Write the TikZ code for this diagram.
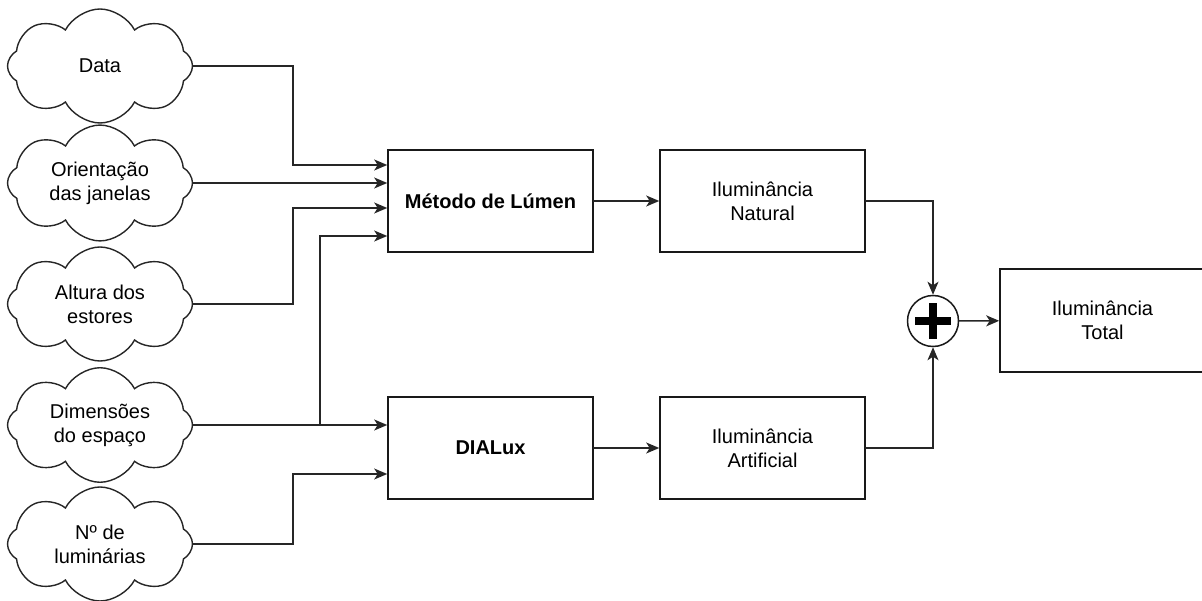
\documentclass[tikz,border=0pt]{standalone}
\usepackage{fontspec}
\setmainfont{Liberation Sans}
\usetikzlibrary{shapes.symbols,arrows.meta}
\begin{document}
\begin{tikzpicture}[x=1pt,y=-1pt,line cap=round,font=\fontsize{20}{24}\selectfont]
        % Styles
        \tikzstyle{nuvem}=[cloud,draw=black!85,cloud puffs=8,cloud puff arc=125,aspect=1.6,inner sep=0pt,minimum width=185pt,minimum height=114pt,align=center,line width=1.4pt]
        \tikzstyle{bloco}=[draw=black!90,line width=1.6pt,minimum width=205pt,minimum height=102pt,align=center]
        \tikzstyle{seta}=[-{Stealth[length=13pt,width=11pt,inset=3.5pt]},line width=1.5pt,black!85]
        \useasboundingbox (0,0) rectangle (1202,601);
        %entradas
        \foreach \nome/\y/\texto in {data/66/Data,orient/183/Orientação\\das janelas,altura/304/Altura dos\\estores,dimens/425/Dimensões\\do espaço,lumin/544/Nº de\\luminárias}
            \node[nuvem] (\nome) at (100,\y) {\texto};
        %blocos
        \node[bloco,font=\fontsize{20}{24}\selectfont\bfseries] (metodo) at (490.5,201) {Método de Lúmen};
        \node[bloco,font=\fontsize{20}{24}\selectfont\bfseries] (dialux) at (490.5,448) {DIALux};
        \node[bloco] (natural) at (762.5,201) {Iluminância\\Natural};
        \node[bloco] (artif) at (762.5,448) {Iluminância\\Artificial};
        \node[circle,draw=black!90,line width=1.5pt,minimum size=51pt,inner sep=0pt] (soma) at (933,321) {};
        \draw[line width=8.5pt,line cap=butt] ([xshift=-18pt]soma.center) -- ([xshift=18pt]soma.center);
        \draw[line width=8.5pt,line cap=butt] ([yshift=-18pt]soma.center) -- ([yshift=18pt]soma.center);
        \node[bloco,minimum height=103pt] (total) at (1102.5,320.5) {Iluminância\\Total};
        %ligacoes
        \draw[seta] (data.east) -- (293,66) -- (293,165) -- ([yshift=36pt]metodo.west);
        \draw[seta] (orient.east) -- ([yshift=18pt]metodo.west);
        \draw[seta] (altura.east) -- (293,304) -- (293,208) -- ([yshift=-7pt]metodo.west);
        \draw[seta] (dimens.east) -- (320,425) -- (320,236) -- ([yshift=-35pt]metodo.west);
        \draw[seta] (dimens.east) -- ([yshift=23pt]dialux.west);
        \draw[seta] (lumin.east) -- (293,544) -- (293,474) -- ([yshift=-26pt]dialux.west);
        \draw[seta] (metodo) -- (natural);
        \draw[seta] (dialux) -- (artif);
        \draw[seta] (natural.east) -| (soma.north);
        \draw[seta] (artif.east) -| (soma.south);
        \draw[seta] (soma) -- (total);
\end{tikzpicture}
\end{document}
